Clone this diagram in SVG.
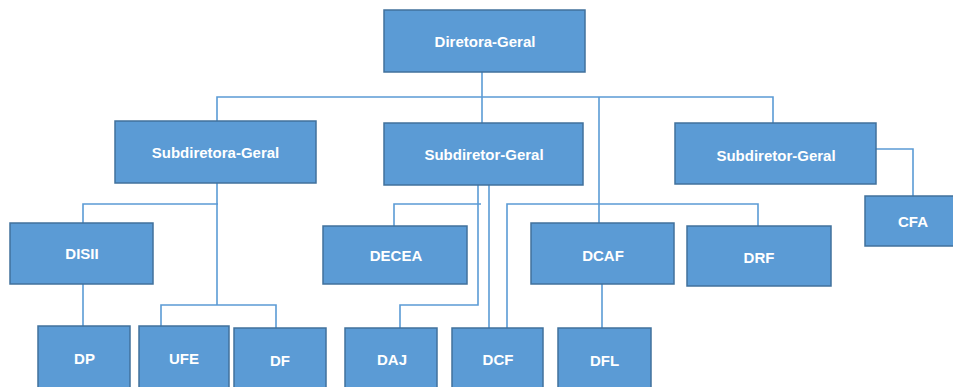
<svg xmlns="http://www.w3.org/2000/svg" width="953" height="387" viewBox="0 0 953 387">
<style>
.box{fill:#5B9BD5;stroke:#41719C;stroke-width:1.5}
.lbl{fill:#FFFFFF;font-family:"Liberation Sans",Arial,sans-serif;font-weight:bold;font-size:15px;text-anchor:middle;dominant-baseline:central}
.ln{fill:none;stroke:#5B9BD5;stroke-width:1.6}
</style>
<rect width="953" height="387" fill="#FFFFFF"/>
<g id="connectors">
<path class="ln" d="M482,72 V97"/>
<path class="ln" d="M217,121 V97 H773 V123"/>
<path class="ln" d="M482,97 V123"/>
<path class="ln" d="M599,97 V223"/>
<path class="ln" d="M876,149 H913 V196"/>
<path class="ln" d="M217,183 V305"/>
<path class="ln" d="M83,223 V204 H218"/>
<path class="ln" d="M83,284 V326"/>
<path class="ln" d="M161,326 V305 H276 V328"/>
<path class="ln" d="M478,185 V305 H400 V328"/>
<path class="ln" d="M481,204 H394 V226"/>
<path class="ln" d="M489,185 V328"/>
<path class="ln" d="M507,328 V204 H758 V226"/>
<path class="ln" d="M602,284 V328"/>
</g>
<g id="diretora-geral"><rect class="box" x="384" y="10" width="201" height="62"/><text class="lbl" x="485" y="41">Diretora-Geral</text></g>
<g id="subdiretora-geral"><rect class="box" x="115" y="121" width="201" height="62"/><text class="lbl" x="215.5" y="152.5">Subdiretora-Geral</text></g>
<g id="subdiretor-geral-1"><rect class="box" x="384" y="123" width="199" height="62"/><text class="lbl" x="484" y="154">Subdiretor-Geral</text></g>
<g id="subdiretor-geral-2"><rect class="box" x="675" y="123" width="201" height="61"/><text class="lbl" x="776" y="155">Subdiretor-Geral</text></g>
<g id="cfa"><rect class="box" x="865" y="196" width="90" height="50"/><text class="lbl" x="913" y="221">CFA</text></g>
<g id="disii"><rect class="box" x="10" y="223" width="143" height="61"/><text class="lbl" x="82" y="253">DISII</text></g>
<g id="decea"><rect class="box" x="323" y="226" width="144" height="58"/><text class="lbl" x="396" y="255">DECEA</text></g>
<g id="dcaf"><rect class="box" x="531" y="223" width="143" height="61"/><text class="lbl" x="603" y="255">DCAF</text></g>
<g id="drf"><rect class="box" x="687" y="226" width="144" height="60"/><text class="lbl" x="759" y="257">DRF</text></g>
<g id="dp"><rect class="box" x="38" y="326" width="92" height="70"/><text class="lbl" x="84.5" y="358.5">DP</text></g>
<g id="ufe"><rect class="box" x="139" y="326" width="90" height="70"/><text class="lbl" x="184" y="358">UFE</text></g>
<g id="df"><rect class="box" x="234" y="328" width="92" height="70"/><text class="lbl" x="280" y="360">DF</text></g>
<g id="daj"><rect class="box" x="345" y="328" width="92" height="70"/><text class="lbl" x="392" y="359.5">DAJ</text></g>
<g id="dcf"><rect class="box" x="452" y="328" width="91" height="70"/><text class="lbl" x="498" y="359.5">DCF</text></g>
<g id="dfl"><rect class="box" x="558" y="328" width="93" height="70"/><text class="lbl" x="604.5" y="360">DFL</text></g>
</svg>
